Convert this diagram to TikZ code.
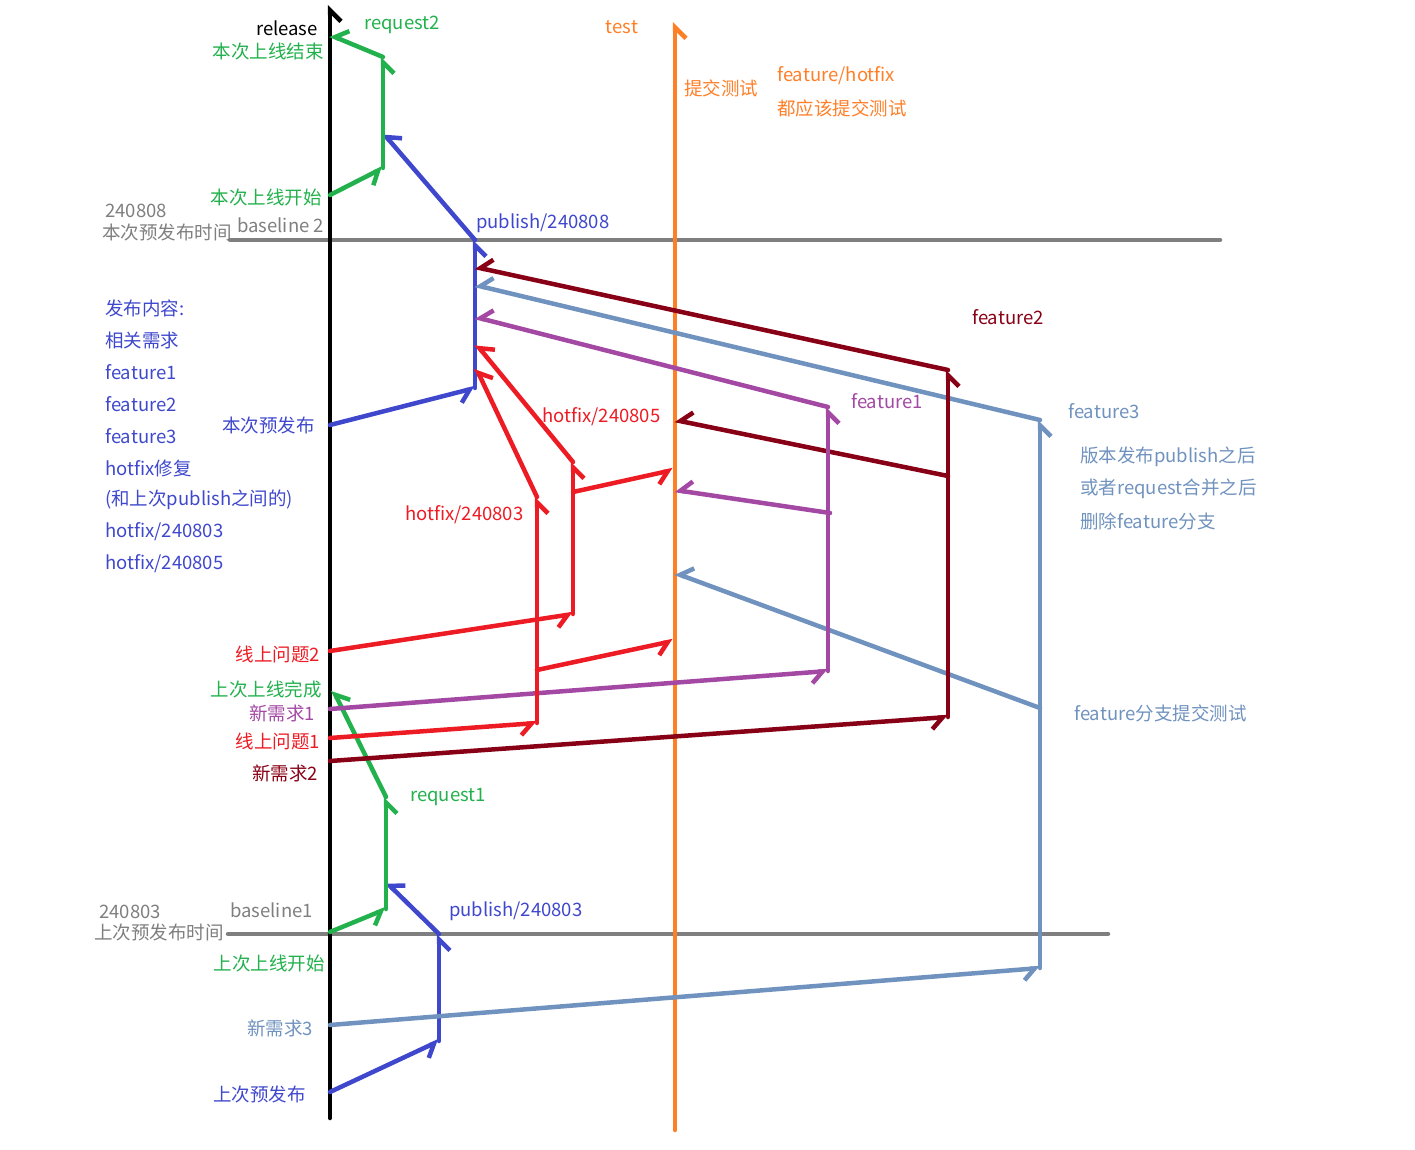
\documentclass[tikz,border=0pt]{standalone}
\usepackage{fontspec}
\setmainfont{Noto Sans CJK SC}
\usetikzlibrary{arrows.meta}
\definecolor{relgreen}{HTML}{22B14C}
\definecolor{pubblue}{HTML}{3F48CC}
\definecolor{fixred}{HTML}{ED1C24}
\definecolor{featone}{HTML}{A349A4}
\definecolor{feattwo}{HTML}{880015}
\definecolor{featthree}{HTML}{7092BE}
\definecolor{testorange}{HTML}{FF7F27}
\definecolor{basegrey}{HTML}{7F7F7F}

\begin{document}
\begin{tikzpicture}[x=1pt,y=-1pt,
   >={Straight Barb[harpoon,swap,length=11pt,width=22pt]},
   every node/.style={font=\fontsize{18.5}{20}\selectfont,inner sep=0pt},
   branch/.style={line width=4.5pt,line cap=round,->},
   baseline/.style={line width=4.5pt,line cap=round,basegrey},
   lbl/.style={anchor=east},
   txt/.style={anchor=west}]
  \useasboundingbox (0,0) rectangle (1415,1150);

  \coordinate (bl2w) at (230,240);
  \coordinate (bl2e) at (1220,240);
  \coordinate (bl1w) at (228,934);
  \coordinate (bl1e) at (1108,934);
  \draw[baseline] (bl2w) -- (bl2e);
  \draw[baseline] (bl1w) -- (bl1e);

  \coordinate (relbot) at (330,1118);
  \coordinate (reltop) at (330,5);
  \coordinate (testbot) at (675,1130);
  \coordinate (testtop) at (675,22);
  \path[branch,black] (relbot) edge (reltop);
  \path[branch,testorange] (testbot) edge (testtop);

  \coordinate (pre1) at (330,1092);
  \coordinate (p1a) at (439,1041);
  \coordinate (p1b) at (439,934);
  \coordinate (b1) at (330,932);
  \coordinate (r1a) at (386,909);
  \coordinate (r1b) at (386,797);
  \coordinate (r1e) at (333,690);
  \coordinate (p1e) at (386,882);
  \path[branch,pubblue]
   (pre1) edge (p1a) (p1a) edge (p1b) (p1b) edge (p1e);
  \path[branch,relgreen]
   (b1) edge (r1a) (r1a) edge (r1b) (r1b) edge (r1e);

  \coordinate (pre2) at (330,425);
  \coordinate (p2a) at (475,388);
  \coordinate (p2b) at (475,240);
  \coordinate (p2e) at (383,133);
  \coordinate (b2) at (330,195);
  \coordinate (r2a) at (383,168);
  \coordinate (r2b) at (383,57);
  \coordinate (r2e) at (330,35);
  \path[branch,pubblue]
   (pre2) edge (p2a) (p2a) edge (p2b) (p2b) edge (p2e);
  \path[branch,relgreen]
   (b2) edge (r2a) (r2a) edge (r2b) (r2b) edge (r2e);

  \coordinate (n3) at (330,1025);
  \coordinate (f3a) at (1040,968);
  \coordinate (f3b) at (1040,420);
  \coordinate (f3m) at (1040,708);
  \path[branch,featthree]
   (n3) edge (f3a) (f3a) edge (f3b)
   (f3b) edge (475,285) (f3m) edge (675,573);

  \coordinate (n2) at (330,761);
  \coordinate (f2a) at (948,717);
  \coordinate (f2b) at (948,370);
  \coordinate (f2m) at (948,476);
  \path[branch,feattwo]
   (n2) edge (f2a) (f2a) edge (f2b)
   (f2b) edge (475,267) (f2m) edge (675,420);

  \coordinate (n1) at (330,709);
  \coordinate (f1a) at (828,671);
  \coordinate (f1b) at (828,407);
  \coordinate (f1m) at (830,513);
  \path[branch,featone]
   (n1) edge (f1a) (f1a) edge (f1b)
   (f1b) edge (475,317) (f1m) edge (675,490);

  \coordinate (q1) at (330,738);
  \coordinate (h1a) at (537,723);
  \coordinate (h1b) at (537,497);
  \coordinate (h1m) at (537,670);
  \coordinate (q2) at (330,651);
  \coordinate (h2a) at (573,614);
  \coordinate (h2b) at (573,462);
  \coordinate (h2m) at (573,492);
  \path[branch,fixred]
   (q1) edge (h1a) (h1a) edge (h1b)
   (h1b) edge (476,368) (h1m) edge (673,641)
   (q2) edge (h2a) (h2a) edge (h2b)
   (h2b) edge (476,344) (h2m) edge (673,470);

  \node[lbl] (release) at (318,28) {release};
  \node[lbl,relgreen] (endnow) at (324,51) {本次上线结束};
  \node[txt,relgreen] (req2) at (364,25) {request2};
  \node[lbl,relgreen] (startnow) at (322,197) {本次上线开始};
  \node[txt,basegrey] (date2) at (105,211) {240808};
  \node[txt,basegrey] (pretime2) at (102,232) {本次预发布时间};
  \node[txt,basegrey] (base2) at (237,225) {baseline 2};
  \node[txt,pubblue] (pub2) at (476,223) {publish/240808};
  \node[testorange] (test) at (622,27) {test};
  \node[txt,testorange] (submit) at (684,88) {提交测试};
  \node[txt,testorange] (rule1) at (777,76) {feature/hotfix};
  \node[txt,testorange] (rule2) at (777,108) {都应该提交测试};

  \foreach \item [count=\i from 0] in {发布内容:,相关需求,feature1,feature2,feature3,hotfix修复,(和上次publish之间的),hotfix/240803,hotfix/240805}
    \node[txt,pubblue] (list\i) at (105,308+32*\i) {\item};

  \node[lbl,pubblue] (prenow) at (315,425) {本次预发布};
  \node[txt,fixred] (fix2) at (542,417) {hotfix/240805};
  \node[txt,fixred] (fix1) at (405,515) {hotfix/240803};
  \node[txt,feattwo] (feat2) at (972,317) {feature2};
  \node[txt,featone] (feat1) at (851,401) {feature1};
  \node[txt,featthree] (feat3) at (1068,411) {feature3};
  \node[txt,featthree] (note1) at (1080,457) {版本发布publish之后};
  \node[txt,featthree] (note2) at (1080,489) {或者request合并之后};
  \node[txt,featthree] (note3) at (1080,521) {删除feature分支};
  \node[txt,featthree] (featsub) at (1074,713) {feature分支提交测试};

  \node[lbl,fixred] (bug2) at (320,654) {线上问题2};
  \node[lbl,relgreen] (donelast) at (322,689) {上次上线完成};
  \node[lbl,featone] (new1) at (315,713) {新需求1};
  \node[lbl,fixred] (bug1) at (320,741) {线上问题1};
  \node[lbl,feattwo] (new2) at (318,773) {新需求2};
  \node[txt,relgreen] (req1) at (410,797) {request1};

  \node[txt,basegrey] (date1) at (99,912) {240803};
  \node[txt,basegrey] (pretime1) at (94,932) {上次预发布时间};
  \node[txt,basegrey] (base1) at (230,910) {baseline1};
  \node[txt,pubblue] (pub1) at (449,911) {publish/240803};
  \node[lbl,relgreen] (startlast) at (325,963) {上次上线开始};
  \node[lbl,featthree] (new3) at (313,1028) {新需求3};
  \node[lbl,pubblue] (prelast) at (306,1094) {上次预发布};
\end{tikzpicture}
\end{document}
